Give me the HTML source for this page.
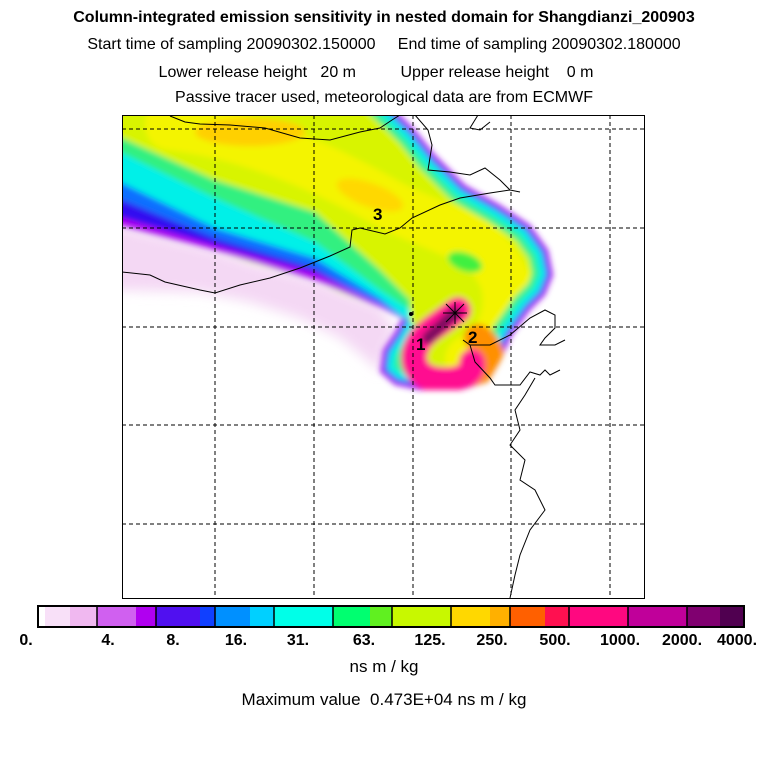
<!DOCTYPE html>
<html><head><meta charset="utf-8"><style>
body{margin:0;background:#fff;width:768px;height:768px;overflow:hidden;font-family:"Liberation Sans",sans-serif}
</style></head><body>
<svg width="768" height="768" xmlns="http://www.w3.org/2000/svg" font-family="Liberation Sans, sans-serif">
<rect width="768" height="768" fill="#fff"/>
<g font-size="16" text-anchor="middle" fill="#000">
<text x="384" y="22" font-weight="bold">Column-integrated emission sensitivity in nested domain for Shangdianzi_200903</text>
<text x="384" y="49" xml:space="preserve">Start time of sampling 20090302.150000     End time of sampling 20090302.180000</text>
<text x="376" y="77" xml:space="preserve">Lower release height   20 m          Upper release height    0 m</text>
<text x="384" y="102">Passive tracer used, meteorological data are from ECMWF</text>
</g>
<defs>
<clipPath id="c"><rect x="122" y="115" width="522" height="483"/></clipPath>
<clipPath id="pc"><path d="M60 40 L320 40 L400 115 L415 130 L435 155 L465 185 L500 205 L530 225 L548 250 L553 275 L545 295 L530 310 L512 335 L500 362 L488 382 L460 390 L420 390 L395 385 L380 372 L383 350 L395 332 L402 318 L380 307 L340 292 L315 280 L250 262 L215 250 L160 236 L122 226 L60 215 Z"/></clipPath>
<filter id="b" filterUnits="userSpaceOnUse" x="0" y="0" width="768" height="768"><feGaussianBlur stdDeviation="3"/></filter>
<filter id="b2" filterUnits="userSpaceOnUse" x="0" y="0" width="768" height="768"><feGaussianBlur stdDeviation="6"/></filter>
</defs>
<g clip-path="url(#c)">
<path filter="url(#b2)" fill="#f4d8f4" d="M110 224 L160 236 L215 250 L250 262 L315 280 L380 307 L395 330 L385 350 L380 372 L365 358 L340 338 L300 318 L250 302 L200 292 L110 290 Z"/>
<g filter="url(#b)">
<g clip-path="url(#pc)">
<rect x="0" y="0" width="768" height="768" fill="#d8f400"/>
<path d="M170 125 C250 135 320 165 390 205 C450 235 485 235 505 280 C515 320 495 350 470 360" fill="none" stroke="#f4f400" stroke-width="50" stroke-linecap="round"/>
<ellipse cx="250" cy="132" rx="55" ry="14" fill="#ffd000"/>
<ellipse cx="370" cy="195" rx="35" ry="12" fill="#ffd800" transform="rotate(20 370 195)"/>
<ellipse cx="465" cy="262" rx="18" ry="9" fill="#40f040" transform="rotate(20 465 262)"/>
<path fill="none" stroke-linejoin="round" d="M60 40 L320 40 L400 115 L415 130 L435 155 L465 185 L500 205 L530 225 L548 250 L553 275 L545 295 L530 310 L512 335 L500 362 L488 382 L460 390 L420 390 L395 385 L380 372 L383 350 L395 332 L402 318" stroke="#30f090" stroke-width="40"/>
<path fill="none" stroke-linejoin="round" d="M60 40 L320 40 L400 115 L415 130 L435 155 L465 185 L500 205 L530 225 L548 250 L553 275 L545 295 L530 310 L512 335 L500 362 L488 382 L460 390 L420 390 L395 385 L380 372 L383 350 L395 332 L402 318" stroke="#00f0e8" stroke-width="26"/>
<path fill="none" stroke-linejoin="round" d="M60 40 L320 40 L400 115 L415 130 L435 155 L465 185 L500 205 L530 225 L548 250 L553 275 L545 295 L530 310 L512 335 L500 362 L488 382 L460 390 L420 390 L395 385 L380 372 L383 350 L395 332 L402 318" stroke="#2060ff" stroke-width="14"/>
<path fill="none" stroke-linejoin="round" d="M60 40 L320 40 L400 115 L415 130 L435 155 L465 185 L500 205 L530 225 L548 250 L553 275 L545 295 L530 310 L512 335 L500 362 L488 382 L460 390 L420 390 L395 385 L380 372 L383 350 L395 332 L402 318" stroke="#b000f0" stroke-width="7"/>
<path fill="#30f080" d="M60 215 L122 226 L215 250 L315 280 L380 307 L410 322 L410 300 L380 270 L315 212 L215 180 L122 138 L60 125 Z"/>
<path fill="#00f0e8" d="M60 215 L122 226 L215 250 L315 280 L380 307 L410 322 L410 310 L380 290 L315 242 L215 198 L122 153 L60 145 Z"/>
<path fill="#1070ff" d="M60 215 L122 226 L215 250 L315 280 L380 307 L410 322 L380 298 L315 258 L215 228 L122 183 L60 175 Z"/>
<path fill="#3010f0" d="M60 215 L122 226 L215 250 L315 280 L380 307 L315 268 L215 238 L122 200 L60 195 Z"/>
<path fill="#b000f0" d="M60 215 L122 226 L215 250 L315 280 L380 307 L410 322 L380 304 L315 273 L215 245 L122 218 L60 210 Z"/>
<path d="M478 338 C495 350 495 368 475 375" fill="none" stroke="#ff9000" stroke-width="28" stroke-linecap="round"/>
<path d="M458 310 L430 330 C405 350 410 378 440 380 C462 382 475 372 472 362" fill="none" stroke="#ff1090" stroke-width="26" stroke-linecap="round"/>
<path d="M455 313 L428 338" stroke="#801060" stroke-width="12" stroke-linecap="round"/>
</g>
</g>
<g fill="none" stroke="#000" stroke-width="1">
<path d="M170 116 L185 122 L200 124 L230 125 L265 128 L300 138 L330 140 L360 132 L380 128 L392 120 L400 115"/>
<path d="M415 115 L428 130 L432 145 L428 170 L450 172 L470 175 L485 168 L500 180 L510 190"/>
<path d="M478 115 L470 128 L480 130 L490 122"/>
<path d="M122 272 L150 275 L165 282 L200 290 L215 293 L240 285 L270 278 L300 268 L330 256 L350 247 L352 230 L360 228 L385 234 L400 228 L412 218 L440 205 L460 198 L490 193 L510 190 L520 192"/>
<path d="M463 340 L470 345 L475 362 L490 378 L495 385 L520 385 L530 372 L540 375 L545 370 L550 375 L560 370"/>
<path d="M470 345 L490 345 L510 335 L530 318 L545 310 L555 315 L555 328 L545 338 L540 345 L555 345 L565 340"/>
<path d="M535 378 L525 395 L515 410 L520 430 L510 445 L525 460 L520 480 L535 490 L545 510 L530 530 L520 555 L515 575 L510 598"/>
</g>
<g stroke="#000" stroke-width="1" stroke-dasharray="4,3">
<line x1="215" y1="115" x2="215" y2="598"/><line x1="314" y1="115" x2="314" y2="598"/>
<line x1="413" y1="115" x2="413" y2="598"/><line x1="511" y1="115" x2="511" y2="598"/>
<line x1="610" y1="115" x2="610" y2="598"/>
<line x1="122" y1="129" x2="644" y2="129"/><line x1="122" y1="228" x2="644" y2="228"/>
<line x1="122" y1="327" x2="644" y2="327"/><line x1="122" y1="425" x2="644" y2="425"/>
<line x1="122" y1="524" x2="644" y2="524"/>
</g>
<g stroke="#000" stroke-width="1"><line x1="443" y1="313" x2="467" y2="313"/><line x1="455" y1="302" x2="455" y2="324"/><line x1="446" y1="304" x2="464" y2="322"/><line x1="464" y1="304" x2="446" y2="322"/></g>
<circle cx="411" cy="314" r="2" fill="#000"/>
<g font-size="17" font-weight="bold"><text x="373" y="220">3</text><text x="416" y="350">1</text><text x="468" y="343">2</text></g>
</g>
<rect x="122.5" y="115.5" width="522" height="483" fill="none" stroke="#000"/>
<g>
<rect x="38" y="606" width="59" height="21" fill="#fff"/>
<rect x="45" y="606" width="52" height="21" fill="#f8e0f8"/>
<rect x="70" y="606" width="27" height="21" fill="#f0b8f0"/>
<rect x="97" y="606" width="59" height="21" fill="#d060f0"/>
<rect x="136" y="606" width="20" height="21" fill="#b000f0"/>
<rect x="156" y="606" width="59" height="21" fill="#5010f0"/>
<rect x="200" y="606" width="15" height="21" fill="#1040ff"/>
<rect x="215" y="606" width="59" height="21" fill="#0090ff"/>
<rect x="250" y="606" width="24" height="21" fill="#00d0ff"/>
<rect x="274" y="606" width="59" height="21" fill="#00ffe8"/>
<rect x="333" y="606" width="59" height="21" fill="#00ff70"/>
<rect x="370" y="606" width="22" height="21" fill="#60f020"/>
<rect x="392" y="606" width="59" height="21" fill="#c8f800"/>
<rect x="451" y="606" width="59" height="21" fill="#ffd800"/>
<rect x="490" y="606" width="20" height="21" fill="#ffb000"/>
<rect x="510" y="606" width="59" height="21" fill="#ff6000"/>
<rect x="545" y="606" width="24" height="21" fill="#ff1050"/>
<rect x="569" y="606" width="59" height="21" fill="#ff0880"/>
<rect x="628" y="606" width="59" height="21" fill="#c0009a"/>
<rect x="687" y="606" width="57" height="21" fill="#800070"/>
<rect x="720" y="606" width="24" height="21" fill="#500050"/>
<g stroke="#000" stroke-width="1.5"><line x1="97" y1="606" x2="97" y2="627"/><line x1="156" y1="606" x2="156" y2="627"/><line x1="215" y1="606" x2="215" y2="627"/><line x1="274" y1="606" x2="274" y2="627"/><line x1="333" y1="606" x2="333" y2="627"/><line x1="392" y1="606" x2="392" y2="627"/><line x1="451" y1="606" x2="451" y2="627"/><line x1="510" y1="606" x2="510" y2="627"/><line x1="569" y1="606" x2="569" y2="627"/><line x1="628" y1="606" x2="628" y2="627"/><line x1="687" y1="606" x2="687" y2="627"/></g>
<rect x="38" y="606" width="706" height="21" fill="none" stroke="#000" stroke-width="2"/>
</g>
<g font-size="16" font-weight="bold" text-anchor="middle">
<text x="26" y="645">0.</text><text x="108" y="645">4.</text><text x="173" y="645">8.</text><text x="236" y="645">16.</text><text x="298" y="645">31.</text><text x="364" y="645">63.</text><text x="430" y="645">125.</text><text x="492" y="645">250.</text><text x="555" y="645">500.</text><text x="620" y="645">1000.</text><text x="682" y="645">2000.</text><text x="737" y="645">4000.</text>
</g>
<g font-size="17" text-anchor="middle"><text x="384" y="672">ns m / kg</text><text x="384" y="705" xml:space="preserve">Maximum value  0.473E+04 ns m / kg</text></g>
</svg>
</body></html>
